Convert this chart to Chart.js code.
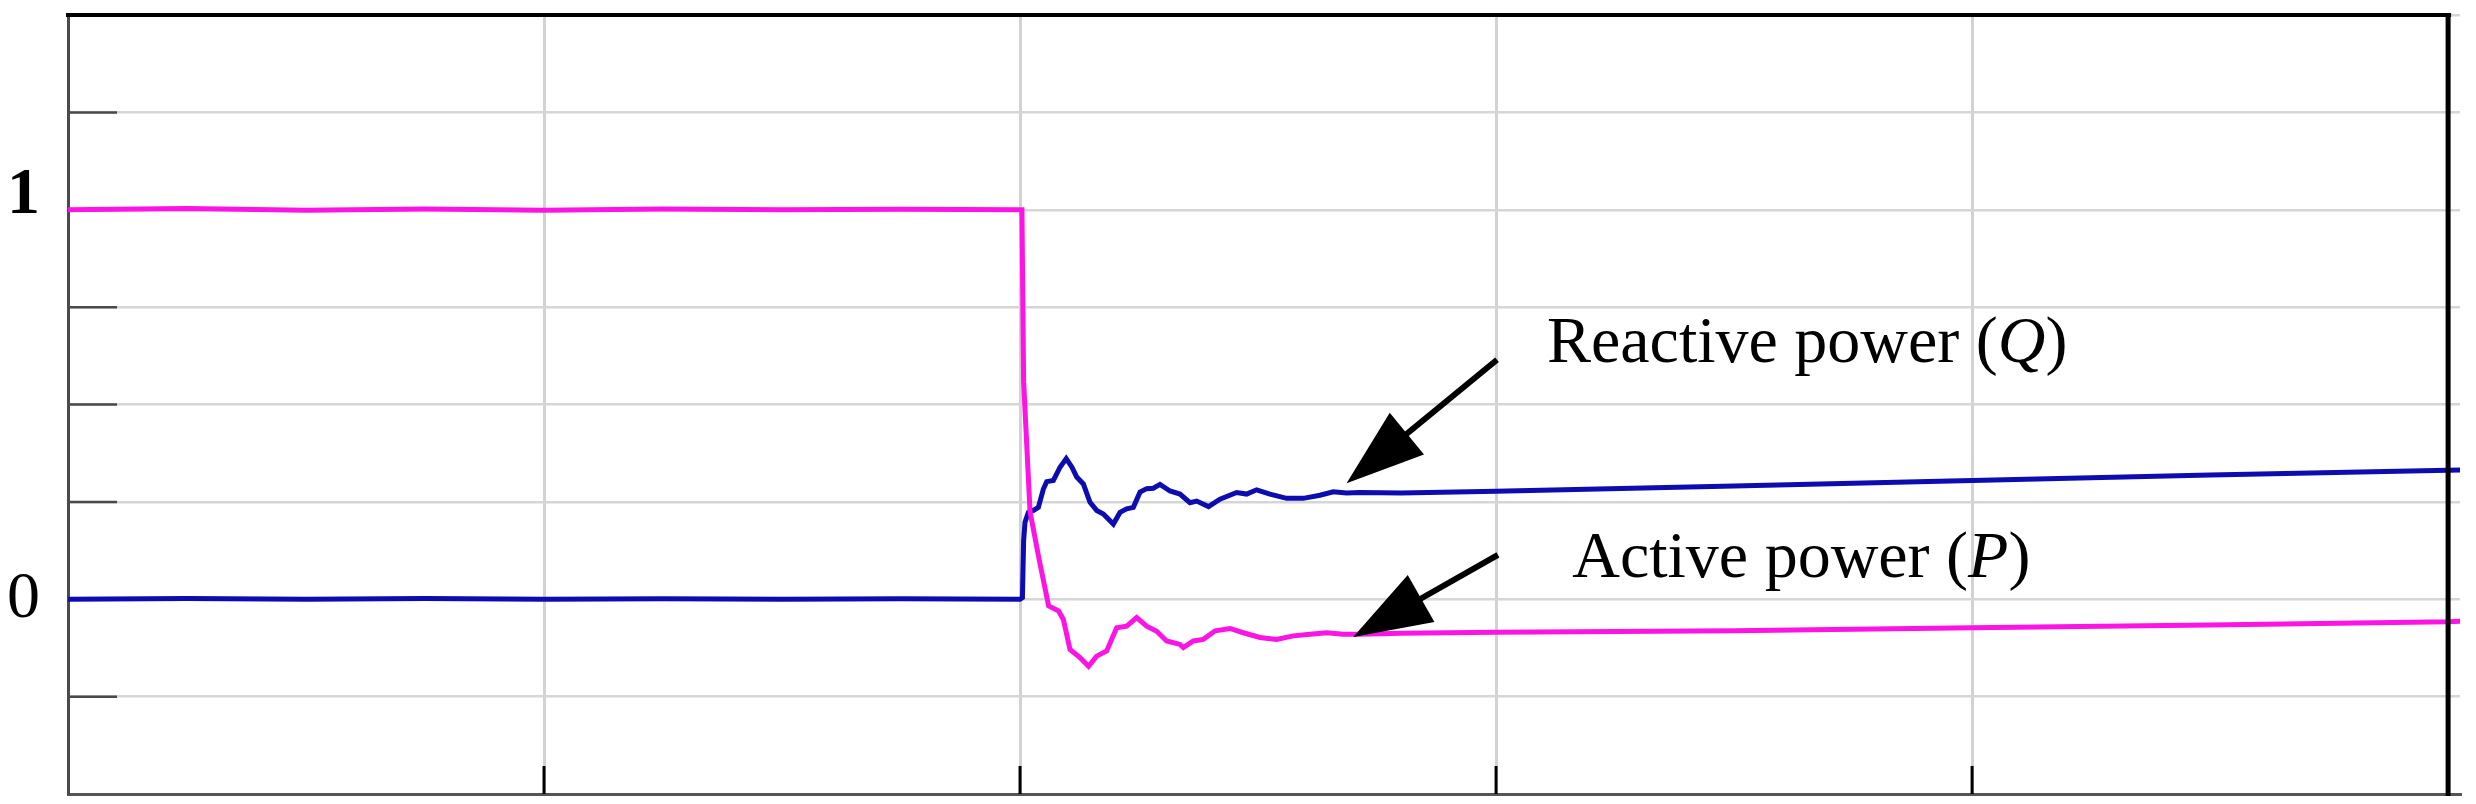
<!DOCTYPE html>
<html>
<head>
<meta charset="utf-8">
<title>Active and reactive power</title>
<script src="https://cdn.jsdelivr.net/npm/chart.js@4.4.1/dist/chart.umd.min.js"></script>
<style>
  html, body { margin: 0; padding: 0; background: #fff; }
  #wrap { width: 2476px; height: 804px; }
</style>
</head>
<body>
<div id="wrap"><canvas id="powerChart" width="2476" height="804"></canvas></div>
<script>
// Active power P (magenta): time samples and values
const timeP = [0, 0.25, 0.5, 0.75, 1.0, 1.25, 1.5, 1.75, 2.0, 2.004, 2.0075, 2.021, 2.040, 2.060,
  2.081, 2.091, 2.105, 2.126, 2.144, 2.161, 2.182, 2.203, 2.224, 2.245, 2.266, 2.287, 2.308, 2.336,
  2.343, 2.364, 2.385, 2.410, 2.441, 2.469, 2.504, 2.539, 2.574, 2.609, 2.644, 2.679, 2.714, 2.80,
  3.0, 3.5, 4.0, 4.5, 5.0, 5.03];
const activeP = [1.000, 1.003, 0.999, 1.002, 0.999, 1.002, 1.000, 1.001, 1.000, 1.000, 0.560, 0.225,
  0.103, -0.017, -0.030, -0.052, -0.129, -0.150, -0.172, -0.146, -0.133, -0.073, -0.069, -0.047,
  -0.069, -0.082, -0.107, -0.116, -0.124, -0.107, -0.103, -0.081, -0.075, -0.086, -0.098, -0.103,
  -0.094, -0.090, -0.086, -0.090, -0.090, -0.087, -0.085, -0.081, -0.073, -0.066, -0.058, -0.056];

// Reactive power Q (blue): time samples and values
const timeQ = [0, 0.25, 0.5, 0.75, 1.0, 1.25, 1.5, 1.75, 2.0, 2.005, 2.0075, 2.0105, 2.0175, 2.028,
  2.0385, 2.049, 2.056, 2.070, 2.084, 2.097, 2.109, 2.119, 2.133, 2.147, 2.161, 2.175, 2.196, 2.210,
  2.224, 2.238, 2.252, 2.266, 2.280, 2.294, 2.315, 2.336, 2.357, 2.371, 2.396, 2.420, 2.455, 2.476,
  2.497, 2.525, 2.560, 2.595, 2.630, 2.658, 2.686, 2.714, 2.80, 3.0, 3.5, 4.0, 4.5, 5.0, 5.03];
const reactiveQ = [0.000, 0.002, 0.000, 0.002, 0.000, 0.001, 0.000, 0.001, 0.000, 0.004, 0.150, 0.198,
  0.223, 0.228, 0.236, 0.283, 0.302, 0.305, 0.339, 0.361, 0.339, 0.314, 0.296, 0.249, 0.228, 0.219,
  0.193, 0.223, 0.232, 0.236, 0.275, 0.284, 0.285, 0.295, 0.278, 0.270, 0.248, 0.252, 0.238, 0.257,
  0.274, 0.270, 0.281, 0.270, 0.259, 0.259, 0.267, 0.276, 0.273, 0.274, 0.273, 0.277, 0.291, 0.305,
  0.319, 0.331, 0.332];

// y axis: only these ticks carry a label
const yTickValues = [0, 1];
const yTickText = ['0', '1'];

// callouts: label start, arrow tail and arrow tip in data units
const callouts = [
  { text: 'Reactive power (', sym: 'Q', tx: 3.107, ty: 0.610, tail: [3.002, 0.615], tip: [2.686, 0.298] },
  { text: 'Active power (', sym: 'P', tx: 3.160, ty: 0.057, tail: [3.004, 0.114], tip: [2.700, -0.097] }
];

const serif = '"Liberation Serif", "Times New Roman", serif';

function toPoints(xs, ys) {
  return xs.map((x, i) => ({ x: x, y: ys[i] }));
}

function drawArrow(ctx, x0, y0, x1, y1) {
  const ang = Math.atan2(y1 - y0, x1 - x0);
  const headLen = 78, headHalf = 27;
  const bx = x1 - headLen * Math.cos(ang);
  const by = y1 - headLen * Math.sin(ang);
  ctx.lineWidth = 6;
  ctx.beginPath();
  ctx.moveTo(x0, y0);
  ctx.lineTo(bx + 4 * Math.cos(ang), by + 4 * Math.sin(ang));
  ctx.stroke();
  ctx.beginPath();
  ctx.moveTo(x1, y1);
  ctx.lineTo(bx + headHalf * Math.sin(ang), by - headHalf * Math.cos(ang));
  ctx.lineTo(bx - headHalf * Math.sin(ang), by + headHalf * Math.cos(ang));
  ctx.closePath();
  ctx.fill();
}

// Inner tick marks, frame and callouts
const framePlugin = {
  id: 'frame',
  beforeDatasetsDraw(chart) {
    const { ctx, chartArea, scales: { x, y } } = chart;
    ctx.save();
    ctx.strokeStyle = '#4a4a4a';
    ctx.lineWidth = 2.5;
    y.ticks.forEach(t => {
      if (t.value <= y.min || t.value >= y.max) return;
      const py = y.getPixelForValue(t.value);
      ctx.beginPath();
      ctx.moveTo(chartArea.left, py);
      ctx.lineTo(chartArea.left + 49, py);
      ctx.stroke();
    });
    ctx.strokeStyle = '#000';
    ctx.lineWidth = 3;
    x.ticks.forEach(t => {
      if (t.value <= 0 || t.value >= 5) return;
      const px = x.getPixelForValue(t.value);
      ctx.beginPath();
      ctx.moveTo(px, chartArea.bottom);
      ctx.lineTo(px, chartArea.bottom - 28);
      ctx.stroke();
    });
    ctx.restore();
  },
  afterDatasetsDraw(chart) {
    const { ctx, chartArea, scales: { x, y } } = chart;
    const xRight = x.getPixelForValue(5);
    ctx.save();
    // top border and right border
    ctx.strokeStyle = '#000';
    ctx.lineWidth = 4;
    ctx.beginPath();
    ctx.moveTo(chartArea.left - 2, chartArea.top);
    ctx.lineTo(xRight + 3, chartArea.top);
    ctx.stroke();
    ctx.lineWidth = 5;
    ctx.beginPath();
    ctx.moveTo(xRight, chartArea.top);
    ctx.lineTo(xRight, chartArea.bottom + 2);
    ctx.stroke();

    // callouts
    ctx.fillStyle = '#000';
    ctx.strokeStyle = '#000';
    ctx.textBaseline = 'alphabetic';
    ctx.textAlign = 'left';
    callouts.forEach(c => {
      drawArrow(ctx, x.getPixelForValue(c.tail[0]), y.getPixelForValue(c.tail[1]),
        x.getPixelForValue(c.tip[0]), y.getPixelForValue(c.tip[1]));
      let px = x.getPixelForValue(c.tx);
      const py = y.getPixelForValue(c.ty);
      ctx.font = '66px ' + serif;
      ctx.fillText(c.text, px, py);
      px += ctx.measureText(c.text).width;
      ctx.font = 'italic 66px ' + serif;
      ctx.fillText(c.sym, px, py);
      px += ctx.measureText(c.sym).width;
      ctx.font = '66px ' + serif;
      ctx.fillText(')', px, py);
    });
    ctx.restore();
  }
};

new Chart(document.getElementById('powerChart'), {
  type: 'line',
  data: {
    datasets: [
      {
        label: 'Active power (P)',
        data: toPoints(timeP, activeP),
        borderColor: '#fc14e4',
        borderWidth: 5,
        pointRadius: 0,
        tension: 0,
        fill: false
      },
      {
        label: 'Reactive power (Q)',
        data: toPoints(timeQ, reactiveQ),
        borderColor: '#0c0cb0',
        borderWidth: 5,
        pointRadius: 0,
        tension: 0,
        fill: false
      }
    ]
  },
  options: {
    responsive: false,
    animation: false,
    events: [],
    layout: { padding: { left: 0, top: 15, right: 16, bottom: 10 } },
    plugins: {
      legend: { display: false },
      tooltip: { enabled: false }
    },
    scales: {
      x: {
        type: 'linear',
        min: 0,
        max: 5.025,
        ticks: { display: false, stepSize: 1, includeBounds: false },
        grid: { color: '#d2d2d2', lineWidth: 3, drawTicks: false },
        border: { color: '#555', width: 3 }
      },
      y: {
        type: 'linear',
        min: -0.5,
        max: 1.5,
        ticks: {
          stepSize: 0.25,
          padding: 28,
          color: '#000',
          font: (c) => (c.tick && c.tick.value === 1)
            ? { family: serif, size: 66, weight: 'bold', lineHeight: '28px' }
            : { family: serif, size: 66 },
          callback: (v) => {
            const i = yTickValues.indexOf(v);
            if (i < 0) return '';
            // the "1" sits a little above its grid line in the original
            return v === 1 ? [yTickText[i], ''] : yTickText[i];
          }
        },
        grid: { color: '#d6d6d6', lineWidth: 2.5, drawTicks: false },
        border: { color: '#4a4a4a', width: 3 },
        afterFit: (s) => {
          s.width = 68;
          s.paddingTop = 0;
          s.paddingBottom = 0;
        }
      }
    }
  },
  plugins: [framePlugin]
});
</script>
</body>
</html>
